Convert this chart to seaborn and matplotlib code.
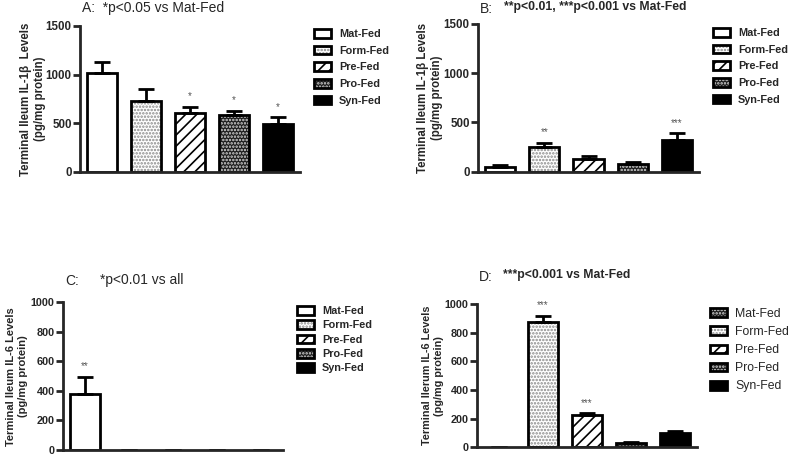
import numpy as np
import pandas as pd
import matplotlib
matplotlib.use("Agg")
import matplotlib.pyplot as plt
from matplotlib.patches import Patch, Rectangle
import seaborn as sns

groups = ["Mat-Fed", "Form-Fed", "Pre-Fed", "Pro-Fed", "Syn-Fed"]

# IL-1beta, panel A
il1b_a = [1012, 728, 603, 586, 490]
il1b_a_sem = [120, 120, 68, 41, 72]
il1b_a_stars = ["", "", "*", "*", "*"]

# IL-1beta, panel B
il1b_b = [50, 254, 126, 78, 322]
il1b_b_sem = [15, 41, 34, 17, 68]
il1b_b_stars = ["", "**", "", "", "***"]

# IL-6, panel C
il6_c = [377, 0, 0, 0, 0]
il6_c_sem = [119, 0, 0, 0, 0]
il6_c_stars = ["**", "", "", "", ""]

# IL-6, panel D
il6_d = [0, 874, 223, 28, 98]
il6_d_sem = [0, 44, 14, 9, 13]
il6_d_stars = ["", "***", "***", "", ""]

face = {"Mat-Fed": "white", "Form-Fed": "white", "Pre-Fed": "white",
        "Pro-Fed": "#1c1c1c", "Syn-Fed": "black"}
hatch = {"Mat-Fed": "", "Form-Fed": ".....", "Pre-Fed": "///",
         "Pro-Fed": ".....", "Syn-Fed": ""}
hatch_col = {"Mat-Fed": "black", "Form-Fed": "#8a8a8a", "Pre-Fed": "black",
             "Pro-Fed": "#d8d8d8", "Syn-Fed": "black"}

sns.set_style("white")
plt.rcParams["font.family"] = ["Liberation Sans", "DejaVu Sans"]
plt.rcParams["hatch.linewidth"] = 1.2

W, H = 791, 457
fig = plt.figure(figsize=(7.91, 4.57), dpi=100)


def draw_panel(rect, vals, sems, stars, ymax, step, ylabel, lab_px,
               tsize=8.3, lsize=8.3):
    ax = fig.add_axes(rect)
    df = pd.DataFrame({"group": groups, "value": vals})
    sns.barplot(data=df, x="group", y="value", hue="group", order=groups,
                hue_order=groups, palette=face, width=0.68, legend=False, ax=ax)
    # hatch layer in its own colour, then a black outline on top
    for p, g in list(zip(ax.patches, groups)):
        p.set_hatch(hatch[g])
        p.set_edgecolor(hatch_col[g])
        p.set_linewidth(0)
        if p.get_height() > 0:
            ax.add_patch(Rectangle(p.get_xy(), p.get_width(), p.get_height(),
                                   fill=False, edgecolor="black", linewidth=2,
                                   zorder=p.get_zorder() + 0.1))
    ax.errorbar(np.arange(len(groups)), vals, yerr=[np.zeros(len(vals)), sems],
                fmt="none", ecolor="black", elinewidth=2, capsize=6, capthick=2,
                zorder=1)
    for i, s in enumerate(stars):
        if s:
            ax.annotate(s, (i, vals[i] + sems[i]), xytext=(0, 4),
                        textcoords="offset points", ha="center", va="bottom",
                        fontsize=7, color="#555555")
    ax.set_xlim(-0.5, 4.5)
    ax.set_ylim(0, ymax)
    ticks = np.arange(0, ymax + 1, step)
    ax.set_yticks(ticks, labels=[str(t) for t in ticks], fontsize=tsize,
                  fontweight="bold")
    ax.set_xticks([])
    ax.set_xlabel("")
    ax.set_ylabel(ylabel, fontsize=lsize, fontweight="bold")
    # right edge of the rotated label, in pixels left of the axis
    ax.yaxis.set_label_coords(-lab_px / (rect[2] * W), 0.5)
    ax.tick_params(axis="y", length=5, width=2, left=True, pad=1)
    sns.despine(ax=ax)
    ax.spines["left"].set_linewidth(2)
    ax.spines["bottom"].set_linewidth(2)
    return ax


def add_legend(ax, x, y, styles, bold, size, spacing):
    handles = [(Patch(facecolor=face[s], edgecolor=hatch_col[s], hatch=hatch[s],
                      linewidth=0),
                Patch(fill=False, edgecolor="black", linewidth=2))
               for s in styles]
    px = size * 100 / 72
    ax.legend(handles, groups, loc="upper left", bbox_to_anchor=(x, y),
              bbox_transform=fig.transFigure, frameon=False,
              prop={"size": size, "weight": "bold" if bold else "normal"},
              handlelength=17 / px, handleheight=9 / px, handletextpad=8 / px,
              labelspacing=spacing, borderpad=0, borderaxespad=0)


ax_a = draw_panel([80 / W, 1 - 172 / H, 220 / W, 146 / H], il1b_a, il1b_a_sem,
                  il1b_a_stars, 1500, 500,
                  "Terminal Ileum IL-1\u03b2  Levels\n(pg/mg protein)", 34)
add_legend(ax_a, 314 / W, 1 - 29 / H, groups, True, 7.8, 0.62)

ax_b = draw_panel([478 / W, 1 - 171.7 / H, 221 / W, 147.7 / H], il1b_b, il1b_b_sem,
                  il1b_b_stars, 1500, 500,
                  "Terminal Ileum IL-1\u03b2 Levels\n(pg/mg protein)", 35)
add_legend(ax_b, 713 / W, 1 - 28 / H, groups, True, 7.8, 0.62)

ax_c = draw_panel([63 / W, 1 - 450 / H, 220 / W, 147.7 / H], il6_c, il6_c_sem,
                  il6_c_stars, 1000, 200,
                  "Terminal Ileum IL-6 Levels\n(pg/mg protein)", 35,
                  tsize=7.8, lsize=8.0)
add_legend(ax_c, 297 / W, 1 - 306 / H, groups, True, 7.8, 0.4)

ax_d = draw_panel([477 / W, 1 - 447.3 / H, 220 / W, 143.3 / H], il6_d, il6_d_sem,
                  il6_d_stars, 1000, 200,
                  "Terminal Ilerum IL-6 Levels\n(pg/mg protein)", 33,
                  tsize=7.8, lsize=7.8)
add_legend(ax_d, 710 / W, 1 - 308 / H, ["Pro-Fed"] + groups[1:], False, 8.8, 0.5)

# panel titles
fig.text(82 / W, 1 - 8 / H, "A:  *p<0.05 vs Mat-Fed", fontsize=10, va="center")
fig.text(480 / W, 1 - 9 / H, "B:", fontsize=10, va="center")
fig.text(504 / W, 1 - 7 / H, "**p<0.01, ***p<0.001 vs Mat-Fed", fontsize=8.8,
         fontweight="bold", va="center")
fig.text(65 / W, 1 - 281 / H, "C:", fontsize=10, va="center")
fig.text(100 / W, 1 - 280 / H, "*p<0.01 vs all", fontsize=10, va="center")
fig.text(479 / W, 1 - 277 / H, "D:", fontsize=10, va="center")
fig.text(503 / W, 1 - 275 / H, "***p<0.001 vs Mat-Fed", fontsize=8.8,
         fontweight="bold", va="center")

fig.savefig("out.png", dpi=100)
